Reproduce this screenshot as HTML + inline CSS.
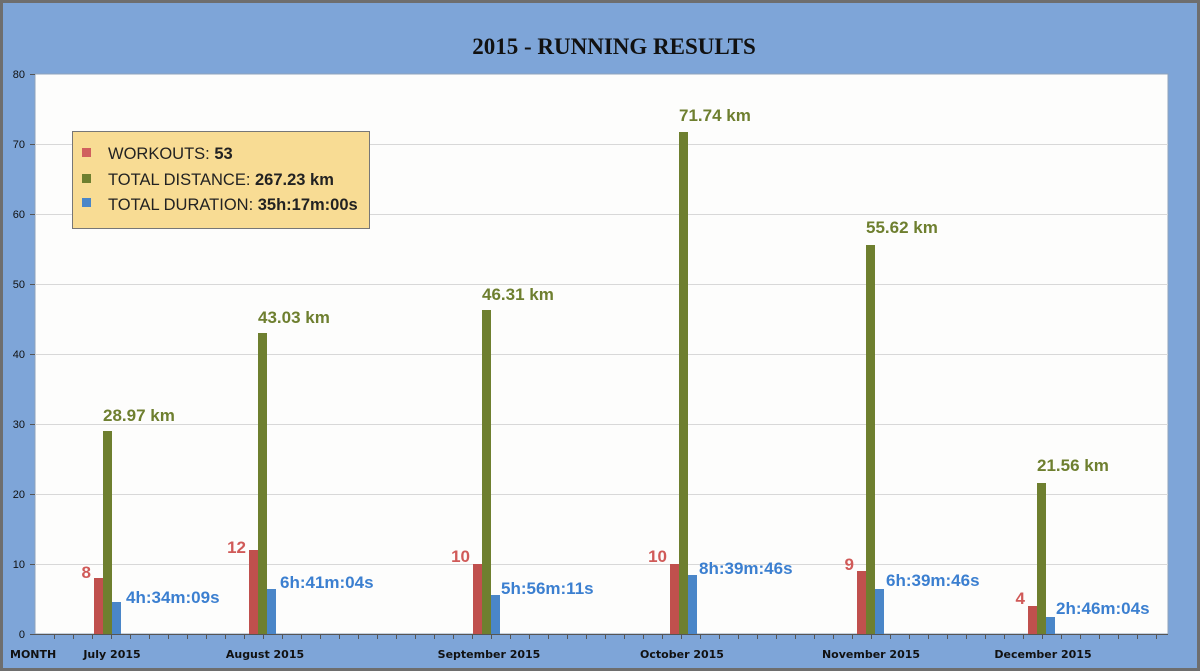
<!DOCTYPE html>
<html><head><style>
body{margin:0;background:#7ea5d8;}
svg{display:block}
</style></head><body>
<svg width="1200" height="671" xmlns="http://www.w3.org/2000/svg" font-family="Liberation Sans, sans-serif">
<rect x="0" y="0" width="1200" height="671" fill="#7ea5d8"/>
<rect x="1.5" y="1.5" width="1197" height="668" fill="none" stroke="#6e6e6e" stroke-width="3"/>
<text x="614" y="54" text-anchor="middle" font-family="Liberation Serif, serif" font-weight="bold" font-size="23" fill="#111">2015 - RUNNING RESULTS</text>
<rect x="35" y="74" width="1133" height="560" fill="#fdfdfc" stroke="#8fa3bb" stroke-width="1"/>
<g stroke="#d8d8d8" stroke-width="1">
<line x1="35" y1="564.5" x2="1168" y2="564.5"/><line x1="35" y1="494.5" x2="1168" y2="494.5"/>
<line x1="35" y1="424.5" x2="1168" y2="424.5"/><line x1="35" y1="354.5" x2="1168" y2="354.5"/>
<line x1="35" y1="284.5" x2="1168" y2="284.5"/><line x1="35" y1="214.5" x2="1168" y2="214.5"/>
<line x1="35" y1="144.5" x2="1168" y2="144.5"/>
</g>
<g font-size="11" fill="#111" text-anchor="end">
<text x="25" y="638">0</text><text x="25" y="568">10</text><text x="25" y="498">20</text>
<text x="25" y="428">30</text><text x="25" y="358">40</text><text x="25" y="288">50</text>
<text x="25" y="218">60</text><text x="25" y="148">70</text><text x="25" y="78">80</text>
</g>
<g stroke="#555" stroke-width="1">
<line x1="30" y1="634.5" x2="35" y2="634.5"/><line x1="30" y1="564.5" x2="35" y2="564.5"/><line x1="30" y1="494.5" x2="35" y2="494.5"/><line x1="30" y1="424.5" x2="35" y2="424.5"/><line x1="30" y1="354.5" x2="35" y2="354.5"/><line x1="30" y1="284.5" x2="35" y2="284.5"/><line x1="30" y1="214.5" x2="35" y2="214.5"/><line x1="30" y1="144.5" x2="35" y2="144.5"/><line x1="30" y1="74.5" x2="35" y2="74.5"/>
<line x1="35" y1="634.5" x2="1168" y2="634.5"/>
</g>
<g>
<rect x="94" y="578" width="9" height="56" fill="#c0504d"/><rect x="103" y="431" width="9" height="203" fill="#6e7f2f"/><rect x="112" y="602" width="9" height="32" fill="#4a86c8"/>
<rect x="249" y="550" width="9" height="84" fill="#c0504d"/><rect x="258" y="333" width="9" height="301" fill="#6e7f2f"/><rect x="267" y="589" width="9" height="45" fill="#4a86c8"/>
<rect x="473" y="564" width="9" height="70" fill="#c0504d"/><rect x="482" y="310" width="9" height="324" fill="#6e7f2f"/><rect x="491" y="595" width="9" height="39" fill="#4a86c8"/>
<rect x="670" y="564" width="9" height="70" fill="#c0504d"/><rect x="679" y="132" width="9" height="502" fill="#6e7f2f"/><rect x="688" y="575" width="9" height="59" fill="#4a86c8"/>
<rect x="857" y="571" width="9" height="63" fill="#c0504d"/><rect x="866" y="245" width="9" height="389" fill="#6e7f2f"/><rect x="875" y="589" width="9" height="45" fill="#4a86c8"/>
<rect x="1028" y="606" width="9" height="28" fill="#c0504d"/><rect x="1037" y="483" width="9" height="151" fill="#6e7f2f"/><rect x="1046" y="617" width="9" height="17" fill="#4a86c8"/>
</g>
<g font-size="17" font-weight="bold">
<g fill="#6e7f2f">
<text x="103" y="421">28.97 km</text><text x="258" y="323">43.03 km</text><text x="482" y="300">46.31 km</text>
<text x="679" y="121">71.74 km</text><text x="866" y="233">55.62 km</text><text x="1037" y="471">21.56 km</text>
</g>
<g fill="#d05a58" text-anchor="end">
<text x="91" y="578">8</text><text x="246" y="553">12</text><text x="470" y="562">10</text>
<text x="667" y="562">10</text><text x="854" y="570">9</text><text x="1025" y="604">4</text>
</g>
<g fill="#3b7fd0">
<text x="126" y="603">4h:34m:09s</text><text x="280" y="588">6h:41m:04s</text><text x="501" y="594">5h:56m:11s</text>
<text x="699" y="574">8h:39m:46s</text><text x="886" y="586">6h:39m:46s</text><text x="1056" y="614">2h:46m:04s</text>
</g>
</g>
<g font-weight="bold" fill="#111" font-family="DejaVu Sans, sans-serif" text-anchor="middle" font-size="11">
<text x="10" y="658" text-anchor="start">MONTH</text>
<text x="112" y="658">July 2015</text>
<text x="265" y="658">August 2015</text>
<text x="489" y="658">September 2015</text>
<text x="682" y="658">October 2015</text>
<text x="871" y="658">November 2015</text>
<text x="1043" y="658">December 2015</text>
</g>
<rect x="72.5" y="131.5" width="297" height="97" fill="#f8dc94" stroke="#777" stroke-width="1"/>
<rect x="82" y="148" width="9" height="9" fill="#d0605e"/>
<rect x="82" y="174" width="9" height="9" fill="#6e7f2f"/>
<rect x="82" y="198" width="9" height="9" fill="#4a86c8"/>
<g font-size="16.5" fill="#222">
<text x="108" y="159">WORKOUTS: <tspan font-weight="bold">53</tspan></text>
<text x="108" y="185">TOTAL DISTANCE: <tspan font-weight="bold">267.23 km</tspan></text>
<text x="108" y="210">TOTAL DURATION: <tspan font-weight="bold">35h:17m:00s</tspan></text>
</g>
<g stroke="#555" stroke-width="1">
<line x1="54.5" y1="634" x2="54.5" y2="639"/><line x1="73.5" y1="634" x2="73.5" y2="639"/><line x1="92.5" y1="634" x2="92.5" y2="639"/><line x1="111.5" y1="634" x2="111.5" y2="639"/><line x1="130.5" y1="634" x2="130.5" y2="639"/><line x1="149.5" y1="634" x2="149.5" y2="639"/><line x1="168.5" y1="634" x2="168.5" y2="639"/><line x1="187.5" y1="634" x2="187.5" y2="639"/><line x1="206.5" y1="634" x2="206.5" y2="639"/><line x1="225.5" y1="634" x2="225.5" y2="639"/><line x1="244.5" y1="634" x2="244.5" y2="639"/><line x1="263.5" y1="634" x2="263.5" y2="639"/><line x1="282.5" y1="634" x2="282.5" y2="639"/><line x1="301.5" y1="634" x2="301.5" y2="639"/><line x1="320.5" y1="634" x2="320.5" y2="639"/><line x1="339.5" y1="634" x2="339.5" y2="639"/><line x1="358.5" y1="634" x2="358.5" y2="639"/><line x1="377.5" y1="634" x2="377.5" y2="639"/><line x1="396.5" y1="634" x2="396.5" y2="639"/><line x1="415.5" y1="634" x2="415.5" y2="639"/><line x1="434.5" y1="634" x2="434.5" y2="639"/><line x1="453.5" y1="634" x2="453.5" y2="639"/><line x1="472.5" y1="634" x2="472.5" y2="639"/><line x1="491.5" y1="634" x2="491.5" y2="639"/><line x1="510.5" y1="634" x2="510.5" y2="639"/><line x1="529.5" y1="634" x2="529.5" y2="639"/><line x1="548.5" y1="634" x2="548.5" y2="639"/><line x1="567.5" y1="634" x2="567.5" y2="639"/><line x1="586.5" y1="634" x2="586.5" y2="639"/><line x1="605.5" y1="634" x2="605.5" y2="639"/><line x1="624.5" y1="634" x2="624.5" y2="639"/><line x1="643.5" y1="634" x2="643.5" y2="639"/><line x1="662.5" y1="634" x2="662.5" y2="639"/><line x1="681.5" y1="634" x2="681.5" y2="639"/><line x1="700.5" y1="634" x2="700.5" y2="639"/><line x1="719.5" y1="634" x2="719.5" y2="639"/><line x1="738.5" y1="634" x2="738.5" y2="639"/><line x1="757.5" y1="634" x2="757.5" y2="639"/><line x1="776.5" y1="634" x2="776.5" y2="639"/><line x1="795.5" y1="634" x2="795.5" y2="639"/><line x1="814.5" y1="634" x2="814.5" y2="639"/><line x1="833.5" y1="634" x2="833.5" y2="639"/><line x1="852.5" y1="634" x2="852.5" y2="639"/><line x1="871.5" y1="634" x2="871.5" y2="639"/><line x1="890.5" y1="634" x2="890.5" y2="639"/><line x1="909.5" y1="634" x2="909.5" y2="639"/><line x1="928.5" y1="634" x2="928.5" y2="639"/><line x1="947.5" y1="634" x2="947.5" y2="639"/><line x1="966.5" y1="634" x2="966.5" y2="639"/><line x1="985.5" y1="634" x2="985.5" y2="639"/><line x1="1004.5" y1="634" x2="1004.5" y2="639"/><line x1="1023.5" y1="634" x2="1023.5" y2="639"/><line x1="1042.5" y1="634" x2="1042.5" y2="639"/><line x1="1061.5" y1="634" x2="1061.5" y2="639"/><line x1="1080.5" y1="634" x2="1080.5" y2="639"/><line x1="1099.5" y1="634" x2="1099.5" y2="639"/><line x1="1118.5" y1="634" x2="1118.5" y2="639"/><line x1="1137.5" y1="634" x2="1137.5" y2="639"/><line x1="1156.5" y1="634" x2="1156.5" y2="639"/>
</g>
</svg>
</body></html>
